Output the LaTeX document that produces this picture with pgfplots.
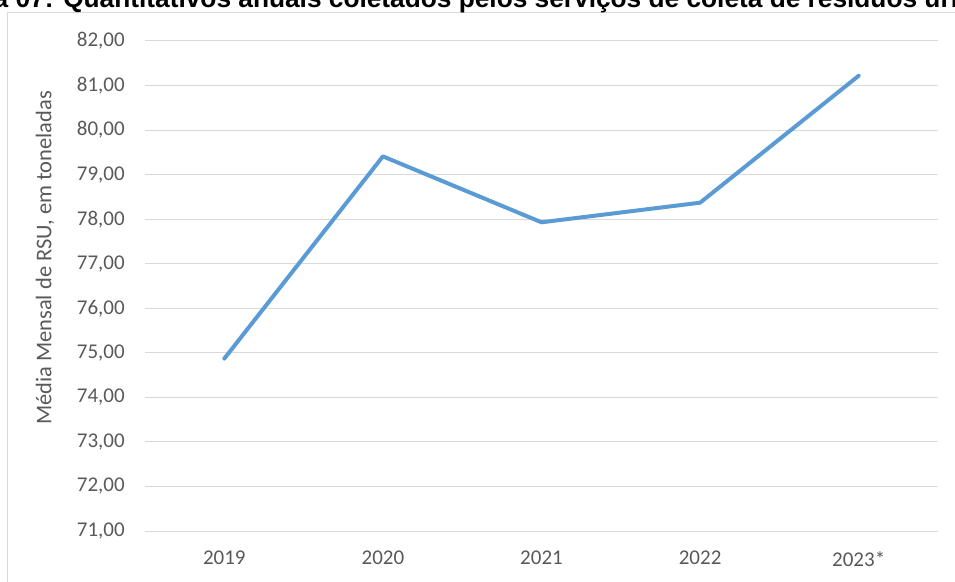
\documentclass[border=0pt]{standalone}
\usepackage{pgfplots}
\pgfplotsset{compat=1.18}
\usepackage{fontspec}
\setmainfont{Carlito}
\newfontfamily\titlefont{Liberation Sans}
\definecolor{linec}{HTML}{5B9BD5}
\definecolor{gridc}{HTML}{D9D9D9}
\definecolor{txtc}{HTML}{595959}
\newlength{\figw}
\begin{document}
\settowidth{\figw}{\titlefont\bfseries\fontsize{19.7pt}{22pt}\selectfont Figura 07: }%
\begin{tikzpicture}
\useasboundingbox (0,0) rectangle (716.25pt,435.75pt);
\clip (0,0) rectangle (716.25pt,435.75pt);
% frame
\draw[gridc, line width=0.75pt] (5.625pt,-10pt) -- (5.625pt,426.375pt) -- (730pt,426.375pt);
% title (cropped)
\node[anchor=base west, inner sep=0pt, font=\titlefont\bfseries\fontsize{19.7pt}{22pt}\selectfont, text=black]
  at ({47.25pt-\figw},429.75pt) {Figura 07: Quantitativos anuais coletados pelos serviços de coleta de resíduos urbanos};
% y label
\node[rotate=90, inner sep=0pt, text=txtc, font=\fontsize{16.85pt}{19pt}\selectfont] at (33.75pt,242.25pt) {Média Mensal de RSU, em toneladas};
\begin{axis}[
  at={(108.75pt,37.5pt)}, anchor=south west,
  scale only axis, width=594.75pt, height=367.5pt,
  xmin=-0.5, xmax=4.5, ymin=71, ymax=82,
  axis line style={draw=none},
  axis x line*=bottom, axis y line*=left,
  xtick={0,1,2,3,4},
  xticklabels={2019,2020,2021,2022,2023*},
  ytick={71,72,...,82},
  major tick length=0pt,
  ymajorgrids, grid style={gridc, line width=0.75pt},
  xmajorgrids=false,
  tick label style={text=txtc, font=\fontsize{15.75pt}{18pt}\selectfont},
  yticklabel style={anchor=east, inner sep=0pt, xshift=-15pt},
  xticklabel style={anchor=north, inner sep=0pt, yshift=-15pt},
  /pgf/number format/.cd, fixed, fixed zerofill, precision=2, use comma, 1000 sep={}, assume math mode=true,
]
\addplot[linec, line width=3pt, line cap=round, line join=round] coordinates {
  (0,74.87) (1,79.41) (2,77.93) (3,78.37) (4,81.22)
};
\end{axis}
\end{tikzpicture}
\end{document}
